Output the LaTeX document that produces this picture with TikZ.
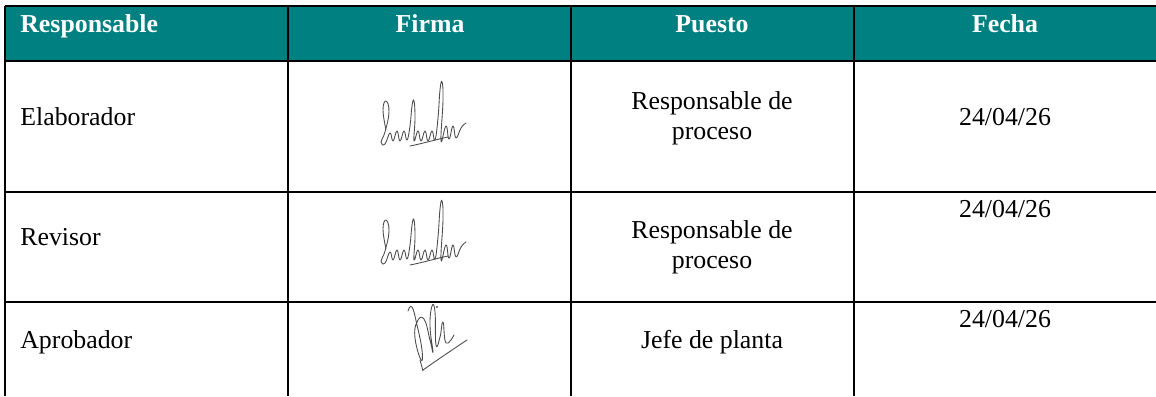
\documentclass[tikz,border=0pt]{standalone}
\usepackage{fontspec}
\setmainfont{Liberation Serif}
\definecolor{cabecera}{RGB}{0,128,128}

% rubrica de los responsables de proceso
\newcommand{\rubricaProceso}{%
  \draw[firma] plot[smooth, tension=0.8] coordinates {(386,130) (383,110) (386,101) (389,112) (385,132) (381,142) (385,144) (390,133) (393,141) (397,131) (400,141) (404,131) (407,140) (410,126) (412,106) (414,101) (415,118) (414,141) (418,131) (421,141) (425,131) (428,141) (432,131) (435,140) (438,118) (440,90) (442,82) (443,100) (441,141) (446,126) (449,139) (453,126) (456,138) (461,128) (466,123)};
  \draw[firma] (410,146) .. controls (425,143) and (438,139) .. (448,137);
}

\begin{document}
\begin{tikzpicture}[x=0.02cm, y=-0.02cm,
    every node/.style={font=\fontsize{14.7}{17}\selectfont, inner sep=0pt},
    titulo/.style={font=\fontsize{14.7}{17}\selectfont\bfseries, text=white},
    celda/.style={align=center},
    linea/.style={line width=1.1pt},
    firma/.style={draw=black!70, line width=0.5pt, line cap=round, line join=round}
  ]
  \useasboundingbox (0,0) rectangle (1156,396);

  % cabecera
  \fill[cabecera] (5,6) rectangle (1156,61);
  \foreach \y in {6,61,192,302}
    \draw[linea] (5,\y) -- (1156,\y);
  \foreach \x in {5,288,571,854}
    \draw[linea] (\x,6) -- (\x,396);

  \node[titulo, anchor=base west] (hResp) at (20,32) {Responsable};
  \node[titulo, anchor=base] (hFirma) at (430,32) {Firma};
  \node[titulo, anchor=base] (hPuesto) at (712,32) {Puesto};
  \node[titulo, anchor=base] (hFecha) at (1005,32) {Fecha};

  % fila 1
  \node[anchor=base west] (resp1) at (20,125) {Elaborador};
  \node[celda] (puesto1) at (712,118) {Responsable de\\proceso};
  \node[anchor=base] (fecha1) at (1005,125) {24/04/26};
  \rubricaProceso

  % fila 2
  \node[anchor=base west] (resp2) at (20,245) {Revisor};
  \node[celda] (puesto2) at (712,247) {Responsable de\\proceso};
  \node[anchor=base] (fecha2) at (1005,217) {24/04/26};
  \begin{scope}[yshift=-119*0.02cm]
    \rubricaProceso
  \end{scope}

  % fila 3
  \node[anchor=base west] (resp3) at (20,348) {Aprobador};
  \node[anchor=base] (puesto3) at (712,348) {Jefe de planta};
  \node[anchor=base] (fecha3) at (1005,327) {24/04/26};
  \draw[firma] plot[smooth, tension=0.8] coordinates {(408,311) (412,307) (417,325) (422,350) (421,360) (415,338) (417,322) (424,319) (430,340) (433,352) (430,326) (432,306) (435,312) (436,345) (440,337) (443,322) (446,343) (454,335)};
  \draw[firma] (423,370) .. controls (440,358) and (455,348) .. (467,340);
  \draw[firma] (420,360) -- (423,371);
  \fill[black!70] (437,307) circle (0.6pt);
\end{tikzpicture}
\end{document}
